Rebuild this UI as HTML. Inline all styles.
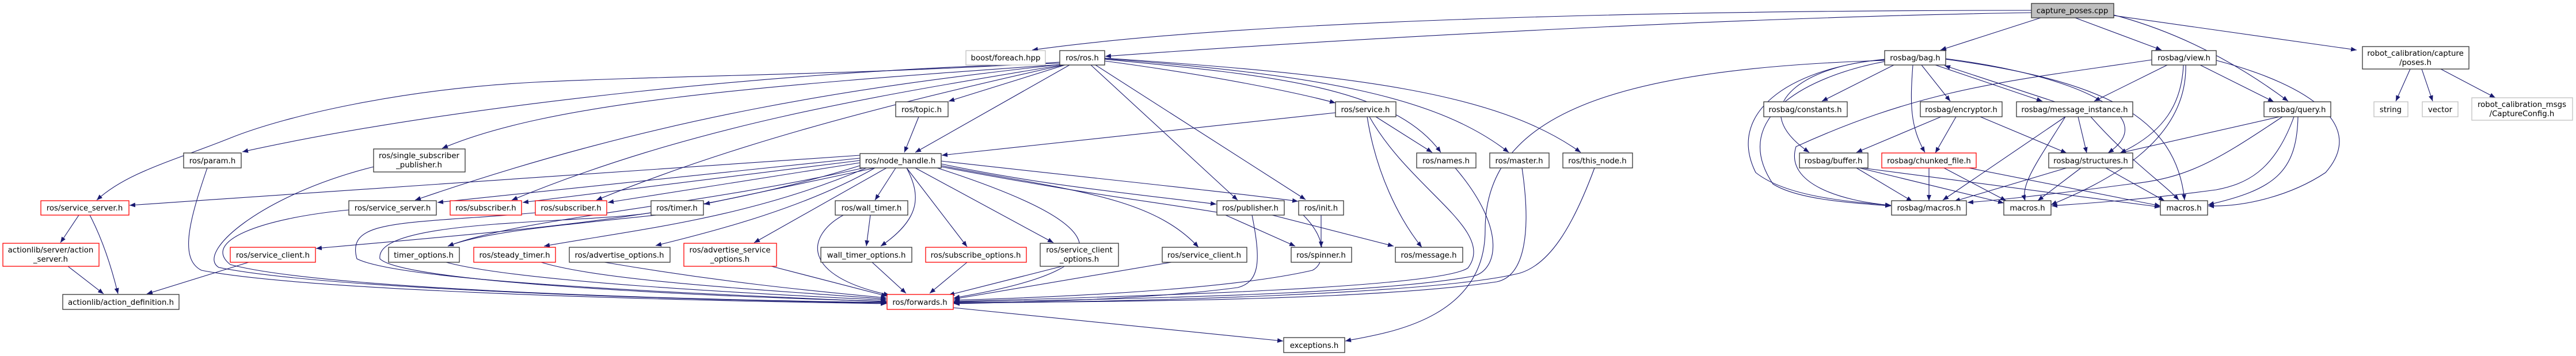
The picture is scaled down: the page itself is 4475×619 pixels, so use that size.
<!DOCTYPE html>
<html><head><meta charset="utf-8"><style>
html,body{margin:0;padding:0;background:#fff;}
svg{display:block;}
text{font-family:"DejaVu Sans","Liberation Sans",sans-serif;font-size:13.3px;fill:#000;text-anchor:middle;}
.e{fill:none;stroke:#191970;stroke-width:1.1;marker-end:url(#a);}
.n{fill:#fff;stroke:#333;stroke-width:1.3;}
.r{fill:#fff;stroke:#ff0000;stroke-width:1.3;}
.g{fill:#fff;stroke:#bfbfbf;stroke-width:1.3;}
</style></head><body>
<svg width="4475" height="619" viewBox="0 0 4475 619" xmlns="http://www.w3.org/2000/svg">
<defs><marker id="a" markerUnits="userSpaceOnUse" markerWidth="11" markerHeight="8" refX="10" refY="4" orient="auto"><path d="M0,0 L10,4 L0,8 z" fill="#191970"/></marker></defs>
<g>
<!-- capture edges -->
<path class="e" d="M3529,18 C3000,18 2200,30 1793,87"/>
<path class="e" d="M3529,22 C3000,30 2300,70 1920,98"/>
<path class="e" d="M3545,31 L3371,87"/>
<path class="e" d="M3605,31 L3755,87"/>
<path class="e" d="M3672,26 C3800,60 3900,120 3975,176"/>
<path class="e" d="M3672,27 L4094,87"/>
<!-- ros.h edges -->
<path class="e" d="M1850,113 L1648,176"/>
<path class="e" d="M1858,113 L1590,265"/>
<path class="e" d="M1895,113 L2150,348"/>
<path class="e" d="M1903,113 L2268,347"/>
<path class="e" d="M1919,106 C2100,130 2250,160 2320,179"/>
<path class="e" d="M1919,103 C2200,130 2420,150 2503,265"/>
<path class="e" d="M1919,102 C2300,130 2500,170 2621,265"/>
<path class="e" d="M1919,101 C2350,130 2600,160 2746,265"/>
<path class="e" d="M1841,110 C1400,120 800,180 421,264"/>
<path class="e" d="M1845,112 C1300,150 950,180 768,258"/>
<path class="e" d="M1841,108 C1500,130 1200,130 929,143 C700,155 500,200 400,240 C300,280 220,300 168,348"/>
<path class="e" d="M1843,112 C1500,150 1150,200 721,348"/>
<path class="e" d="M1845,113 C1500,170 1200,220 889,348"/>
<path class="e" d="M1848,113 C1500,190 1250,260 1036,348"/>
<!-- topic/service -->
<path class="e" d="M1596,203 L1571,265"/>
<path class="e" d="M2320,196 L1636,270"/>
<path class="e" d="M2390,203 L2488,265"/>
<path class="e" d="M2375,203 C2390,300 2430,380 2470,430"/>
<path class="e" d="M2379,203 C2450,330 2600,400 2550,466 C2500,500 2000,515 1657,524"/>
<path class="e" d="M2528,292 C2620,400 2600,470 2560,480 C2400,510 2000,520 1657,525"/>
<path class="e" d="M2644,292 C2660,400 2650,480 2600,490 C2400,520 2000,525 1657,526"/>
<path class="e" d="M2770,292 C2730,400 2690,460 2640,475 C2500,510 2000,525 1657,527"/>
<path class="e" d="M2264,374 C2310,420 2300,460 2280,470 C2150,500 1900,515 1657,522"/>
<path class="e" d="M2295,374 L2295,430"/>
<path class="e" d="M2210,374 L2421,428"/>
<path class="e" d="M1635,290 C1900,340 2000,350 2120,370 L2250,428"/>
<path class="e" d="M2175,374 C2190,450 2190,490 2150,500 C2000,520 1800,525 1657,528"/>
<!-- node_handle edges -->
<path class="e" d="M1494,270 L225,357"/>
<path class="e" d="M1494,275 L760,352"/>
<path class="e" d="M1494,279 L908,352"/>
<path class="e" d="M1494,283 L1056,352"/>
<path class="e" d="M1520,292 L1223,355"/>
<path class="e" d="M1556,292 L1520,348"/>
<path class="e" d="M1635,285 C1800,320 1950,335 2113,355"/>
<path class="e" d="M1635,280 C1900,310 2100,330 2255,350"/>
<path class="e" d="M1494,288 C1200,380 900,400 549,432"/>
<path class="e" d="M1500,292 C1200,360 900,380 778,428"/>
<path class="e" d="M1222,365 C1000,390 850,400 778,428"/>
<path class="e" d="M1505,292 C1300,380 1100,400 945,428"/>
<path class="e" d="M1520,292 C1400,360 1250,400 1139,427"/>
<path class="e" d="M1540,292 L1310,422"/>
<path class="e" d="M1575,292 C1600,340 1600,380 1530,428"/>
<path class="e" d="M1575,292 L1680,429"/>
<path class="e" d="M1590,292 L1830,422"/>
<path class="e" d="M1635,288 C1850,330 2000,340 2082,430"/>
<path class="e" d="M1628,292 C1900,380 2000,460 1657,518"/>
<!-- to forwards -->
<path class="e" d="M360,292 C330,380 310,450 350,470 C500,500 1000,520 1540,528"/>
<path class="e" d="M649,290 C450,340 340,440 380,465 C550,500 1100,520 1540,527"/>
<path class="e" d="M606,365 C450,380 350,420 400,460 C550,500 1100,520 1540,526"/>
<path class="e" d="M930,370 C700,390 600,380 620,450 C700,490 1200,510 1540,525"/>
<path class="e" d="M1131,370 C1000,390 650,380 660,450 C700,490 1200,515 1540,524"/>
<path class="e" d="M775,456 C900,490 1300,510 1540,522"/>
<path class="e" d="M940,456 C1050,490 1350,505 1540,520"/>
<path class="e" d="M1050,456 C1250,490 1400,505 1540,518"/>
<path class="e" d="M1340,463 L1541,515"/>
<path class="e" d="M1465,374 C1400,410 1390,480 1545,513"/>
<path class="e" d="M1512,374 L1505,428"/>
<path class="e" d="M1515,456 L1574,510"/>
<path class="e" d="M1680,456 L1615,510"/>
<path class="e" d="M1845,463 L1648,513"/>
<path class="e" d="M2035,456 L1657,520"/>
<!-- actionlib -->
<path class="e" d="M137,374 L105,422"/>
<path class="e" d="M156,374 C180,420 195,470 205,511"/>
<path class="e" d="M118,463 L180,511"/>
<path class="e" d="M432,456 L255,511"/>
<!-- exceptions -->
<path class="e" d="M1656,535 L2229,593"/>
<path class="e" d="M3274,105 C2800,120 2580,200 2580,400 C2580,560 2400,580 2337,593"/>
<!-- rosbag -->
<path class="e" d="M3290,113 L3165,176"/>
<path class="e" d="M3274,104 C3150,110 3020,180 3143,265"/>
<path class="e" d="M3274,103 C3100,120 3000,200 3050,300 C3100,340 3200,350 3285,357"/>
<path class="e" d="M3274,107 C3150,130 3000,200 3080,320 C3120,345 3200,352 3285,358"/>
<path class="e" d="M3738,104 C3500,140 3350,150 3120,255 C3100,320 3200,350 3285,357"/>
<path class="e" d="M3372,203 L3225,265"/>
<path class="e" d="M3338,113 L3388,176"/>
<path class="e" d="M3362,113 L3548,176"/>
<path class="e" d="M3570,177 L3378,114"/>
<path class="e" d="M3323,113 C3318,180 3318,220 3344,265"/>
<path class="e" d="M3380,102 C3600,130 3760,200 3662,266"/>
<path class="e" d="M3380,103 C3650,140 3780,200 3795,348"/>
<path class="e" d="M3398,203 L3362,266"/>
<path class="e" d="M3440,203 L3590,266"/>
<path class="e" d="M3765,113 L3638,176"/>
<path class="e" d="M3822,113 L3950,177"/>
<path class="e" d="M3793,113 C3790,180 3760,230 3683,266"/>
<path class="e" d="M3797,113 C3800,250 3650,320 3563,356"/>
<path class="e" d="M3850,105 C4020,150 4110,220 4040,300 C3980,340 3900,360 3836,358"/>
<path class="e" d="M3588,203 L3375,348"/>
<path class="e" d="M3588,203 C3540,280 3510,320 3518,349"/>
<path class="e" d="M3610,203 L3625,266"/>
<path class="e" d="M3632,203 C3700,280 3760,320 3785,348"/>
<path class="e" d="M3590,292 L3395,350"/>
<path class="e" d="M3615,292 L3540,349"/>
<path class="e" d="M3658,292 L3760,349"/>
<path class="e" d="M3960,203 L3683,266"/>
<path class="e" d="M3965,203 C3850,280 3800,310 3700,320 C3550,340 3450,350 3418,352"/>
<path class="e" d="M3985,203 C3950,300 3900,320 3850,330 C3700,350 3600,355 3564,358"/>
<path class="e" d="M3992,203 C3990,300 3950,330 3836,356"/>
<path class="e" d="M3351,292 L3351,349"/>
<path class="e" d="M3377,292 L3485,349"/>
<path class="e" d="M3420,292 L3753,358"/>
<path class="e" d="M3225,292 L3322,350"/>
<path class="e" d="M3230,292 L3481,353"/>
<path class="e" d="M3235,292 L3753,360"/>
<path class="e" d="M4187,120 L4162,176"/>
<path class="e" d="M4207,120 L4226,176"/>
<path class="e" d="M4240,120 L4335,170"/>
</g>
<g>
<rect x="3529" y="6" width="143" height="25" fill="#bfbfbf" stroke="#333" stroke-width="1.3"/><text x="3600" y="23">capture_poses.cpp</text>
<rect class="g" x="1678" y="88" width="138" height="25"/><text x="1747" y="105">boost/foreach.hpp</text>
<rect class="n" x="1841" y="88" width="78" height="25"/><text x="1880" y="105">ros/ros.h</text>
<rect class="n" x="3274" y="88" width="106" height="25"/><text x="3327" y="105">rosbag/bag.h</text>
<rect class="n" x="3738" y="88" width="112" height="25"/><text x="3794" y="105">rosbag/view.h</text>
<rect class="n" x="4104" y="81" width="185" height="39"/><text x="4196" y="97">robot_calibration/capture</text><text x="4196" y="113">/poses.h</text>
<rect class="n" x="1556" y="177" width="91" height="26"/><text x="1601" y="195">ros/topic.h</text>
<rect class="n" x="2320" y="177" width="105" height="26"/><text x="2372" y="195">ros/service.h</text>
<rect class="n" x="3064" y="177" width="145" height="26"/><text x="3136" y="195">rosbag/constants.h</text>
<rect class="n" x="3336" y="177" width="142" height="26"/><text x="3407" y="195">rosbag/encryptor.h</text>
<rect class="n" x="3503" y="177" width="202" height="26"/><text x="3604" y="195">rosbag/message_instance.h</text>
<rect class="n" x="3933" y="177" width="116" height="26"/><text x="3991" y="195">rosbag/query.h</text>
<rect class="g" x="4124" y="177" width="59" height="26"/><text x="4153" y="195">string</text>
<rect class="g" x="4208" y="177" width="62" height="26"/><text x="4239" y="195">vector</text>
<rect class="g" x="4294" y="170" width="175" height="39"/><text x="4381" y="186">robot_calibration_msgs</text><text x="4381" y="202">/CaptureConfig.h</text>
<rect class="n" x="319" y="266" width="100" height="26"/><text x="369" y="284">ros/param.h</text>
<rect class="n" x="649" y="259" width="159" height="40"/><text x="728" y="275">ros/single_subscriber</text><text x="728" y="291">_publisher.h</text>
<rect class="n" x="1494" y="267" width="141" height="25"/><text x="1564" y="284">ros/node_handle.h</text>
<rect class="n" x="2461" y="266" width="103" height="26"/><text x="2512" y="284">ros/names.h</text>
<rect class="n" x="2588" y="266" width="103" height="26"/><text x="2639" y="284">ros/master.h</text>
<rect class="n" x="2715" y="266" width="121" height="26"/><text x="2775" y="284">ros/this_node.h</text>
<rect class="n" x="3126" y="266" width="119" height="26"/><text x="3185" y="284">rosbag/buffer.h</text>
<rect class="r" x="3269" y="266" width="164" height="26"/><text x="3351" y="284">rosbag/chunked_file.h</text>
<rect class="n" x="3559" y="266" width="146" height="26"/><text x="3632" y="284">rosbag/structures.h</text>
<rect class="r" x="71" y="349" width="153" height="25"/><text x="147" y="366">ros/service_server.h</text>
<rect class="n" x="606" y="349" width="152" height="25"/><text x="682" y="366">ros/service_server.h</text>
<rect class="r" x="782" y="349" width="124" height="25"/><text x="844" y="366">ros/subscriber.h</text>
<rect class="r" x="930" y="349" width="124" height="25"/><text x="992" y="366">ros/subscriber.h</text>
<rect class="n" x="1131" y="349" width="91" height="25"/><text x="1176" y="366">ros/timer.h</text>
<rect class="n" x="1451" y="349" width="126" height="25"/><text x="1514" y="366">ros/wall_timer.h</text>
<rect class="n" x="2114" y="349" width="117" height="25"/><text x="2172" y="366">ros/publisher.h</text>
<rect class="n" x="2256" y="349" width="78" height="25"/><text x="2295" y="366">ros/init.h</text>
<rect class="n" x="3286" y="349" width="130" height="25"/><text x="3351" y="366">rosbag/macros.h</text>
<rect class="n" x="3481" y="349" width="82" height="25"/><text x="3522" y="366">macros.h</text>
<rect class="n" x="3753" y="349" width="82" height="25"/><text x="3794" y="366">macros.h</text>
<rect class="r" x="5" y="423" width="167" height="40"/><text x="88" y="439">actionlib/server/action</text><text x="88" y="455">_server.h</text>
<rect class="r" x="400" y="430" width="148" height="26"/><text x="474" y="448">ros/service_client.h</text>
<rect class="n" x="675" y="430" width="123" height="26"/><text x="736" y="448">timer_options.h</text>
<rect class="r" x="823" y="430" width="142" height="26"/><text x="894" y="448">ros/steady_timer.h</text>
<rect class="n" x="989" y="430" width="175" height="26"/><text x="1076" y="448">ros/advertise_options.h</text>
<rect class="r" x="1188" y="423" width="161" height="40"/><text x="1268" y="439">ros/advertise_service</text><text x="1268" y="455">_options.h</text>
<rect class="n" x="1426" y="430" width="158" height="26"/><text x="1505" y="448">wall_timer_options.h</text>
<rect class="r" x="1608" y="430" width="175" height="26"/><text x="1695" y="448">ros/subscribe_options.h</text>
<rect class="n" x="1807" y="423" width="136" height="40"/><text x="1875" y="439">ros/service_client</text><text x="1875" y="455">_options.h</text>
<rect class="n" x="2019" y="430" width="147" height="26"/><text x="2092" y="448">ros/service_client.h</text>
<rect class="n" x="2243" y="430" width="105" height="26"/><text x="2295" y="448">ros/spinner.h</text>
<rect class="n" x="2424" y="430" width="117" height="26"/><text x="2482" y="448">ros/message.h</text>
<rect class="n" x="109" y="512" width="202" height="26"/><text x="210" y="530">actionlib/action_definition.h</text>
<rect class="r" x="1541" y="512" width="115" height="26"/><text x="1598" y="530">ros/forwards.h</text>
<rect class="n" x="2230" y="587" width="106" height="26"/><text x="2283" y="605">exceptions.h</text>
</g>
</svg>
</body></html>
